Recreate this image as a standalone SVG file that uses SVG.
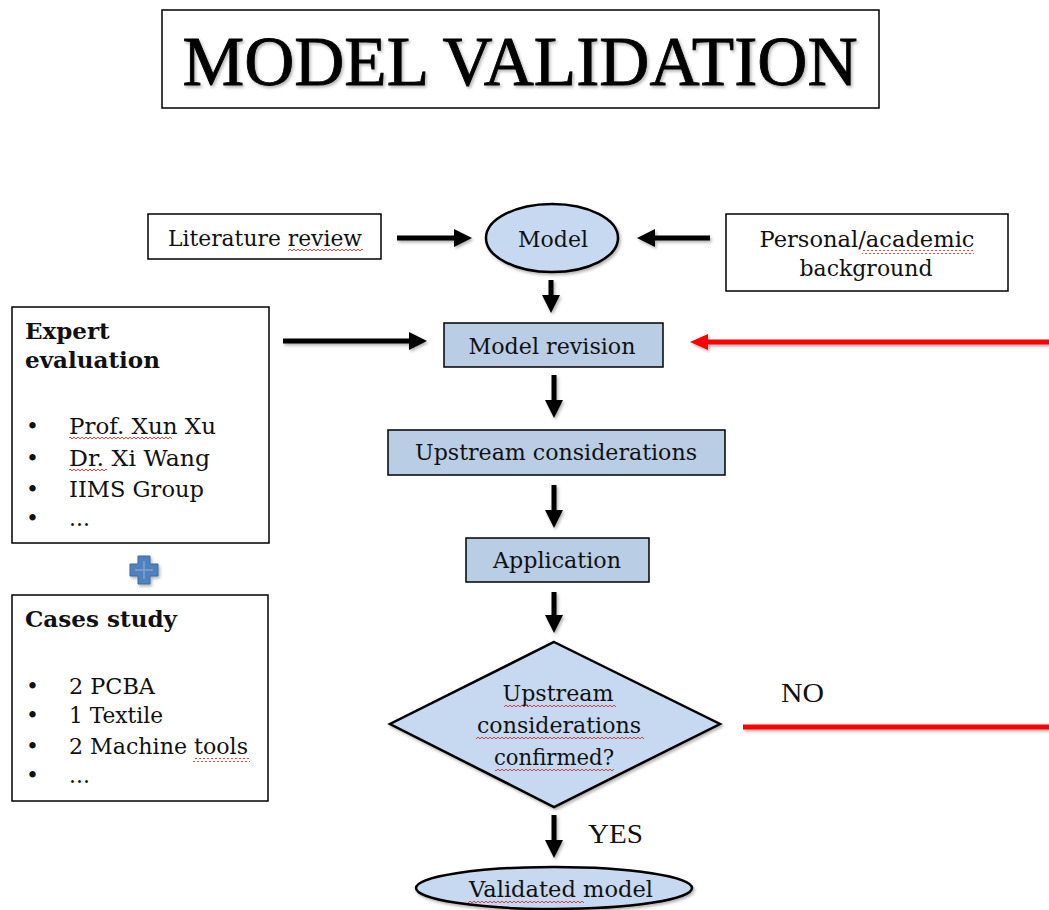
<svg xmlns="http://www.w3.org/2000/svg" width="1049" height="910" viewBox="0 0 1049 910">
<style>
.box{fill:#fff;stroke:#000;stroke-width:1.5}
.blue{fill:#b9cde5;stroke:#000;stroke-width:1.5}
.oval{fill:#c6d9f1;stroke:#000;stroke-width:2.5}
.t{font-family:"DejaVu Serif","Liberation Serif",serif;font-size:22px;fill:#111}
.b{font-family:"DejaVu Serif","Liberation Serif",serif;font-size:23px;font-weight:bold;fill:#111}
.c{text-anchor:middle}
.ar{stroke:#000;stroke-width:5;fill:none;marker-end:url(#ah)}
.rd{stroke:#f00;stroke-width:5;fill:none}
</style>
<defs>
<marker id="ah" markerUnits="userSpaceOnUse" markerWidth="20" markerHeight="20" refX="2" refY="9" orient="auto" viewBox="0 0 20 18">
<path d="M0,0 L18,9 L0,18 Z" fill="#000"/>
</marker>
<marker id="rh" markerUnits="userSpaceOnUse" markerWidth="20" markerHeight="20" refX="2" refY="8" orient="auto" viewBox="0 0 20 16">
<path d="M0,0 L18,8 L0,16 Z" fill="#f00"/>
</marker>
<pattern id="sq" patternUnits="userSpaceOnUse" width="4" height="4">
<path d="M0,3 L2,1 L4,3" fill="none" stroke="#e03030" stroke-width="0.9"/>
</pattern>
<filter id="sh" x="-10%" y="-10%" width="130%" height="140%">
<feDropShadow dx="1.5" dy="2" stdDeviation="1.5" flood-color="#000" flood-opacity="0.3"/>
</filter>
</defs>
<rect width="1049" height="910" fill="#fff"/>

<g id="title">
<rect x="162" y="10" width="717" height="98" class="box"/>
<text x="520" y="85" text-anchor="middle" font-family="Liberation Serif,serif" font-size="70" textLength="675" lengthAdjust="spacingAndGlyphs" fill="#000" stroke="#000" stroke-width="0.8" filter="url(#sh)">MODEL VALIDATION</text>
</g>

<g id="literature">
<rect x="148" y="214" width="233" height="45" class="box"/>
<text x="265" y="246" class="t c" textLength="194" lengthAdjust="spacingAndGlyphs">Literature review</text>
</g>

<g id="model">
<ellipse cx="552" cy="238" rx="66" ry="34" class="oval" filter="url(#sh)"/>
<text x="553" y="247" class="t c" textLength="70" lengthAdjust="spacingAndGlyphs">Model</text>
</g>

<g id="background">
<rect x="726" y="214" width="282" height="77" class="box"/>
<text x="867" y="247" class="t c" textLength="215" lengthAdjust="spacingAndGlyphs">Personal/academic</text>
<text x="866" y="276" class="t c" textLength="133" lengthAdjust="spacingAndGlyphs">background</text>
</g>

<g id="revision">
<rect x="444" y="323" width="219" height="44" class="blue"/>
<text x="552" y="354" class="t c" textLength="167" lengthAdjust="spacingAndGlyphs">Model revision</text>
</g>

<g id="upstream">
<rect x="388" y="430" width="337" height="45" class="blue"/>
<text x="556" y="460" class="t c" textLength="282" lengthAdjust="spacingAndGlyphs">Upstream considerations</text>
</g>

<g id="application">
<rect x="466" y="538" width="183" height="44" class="blue"/>
<text x="557" y="568" class="t c" textLength="128" lengthAdjust="spacingAndGlyphs">Application</text>
</g>

<g id="decision">
<polygon points="554,642 720,724 554,807 390,724" fill="#c6d9f1" stroke="#000" stroke-width="2.5" filter="url(#sh)"/>
<text x="558" y="701" class="t c" textLength="111" lengthAdjust="spacingAndGlyphs">Upstream</text>
<text x="559" y="733" class="t c" textLength="164" lengthAdjust="spacingAndGlyphs">considerations</text>
<text x="554" y="765" class="t c" textLength="120" lengthAdjust="spacingAndGlyphs">confirmed?</text>
</g>

<g id="validated">
<ellipse cx="554" cy="888" rx="138" ry="21" class="oval" filter="url(#sh)"/>
<text x="561" y="897" class="t c" textLength="184" lengthAdjust="spacingAndGlyphs">Validated model</text>
</g>

<g id="expert">
<rect x="12" y="307" width="257" height="236" class="box"/>
<text x="25" y="339" class="b">Expert</text>
<text x="25" y="368" class="b" textLength="135" lengthAdjust="spacingAndGlyphs">evaluation</text>
<g class="t">
<text x="26" y="434">•</text><text x="69" y="434" textLength="147" lengthAdjust="spacingAndGlyphs">Prof. Xun Xu</text>
<text x="26" y="466">•</text><text x="69" y="466" textLength="141" lengthAdjust="spacingAndGlyphs">Dr. Xi Wang</text>
<text x="26" y="497">•</text><text x="69" y="497" textLength="135" lengthAdjust="spacingAndGlyphs">IIMS Group</text>
<text x="26" y="526">•</text><text x="69" y="526">...</text>
</g>
</g>

<g id="plus">
<path d="M138,556 h12 v8 h8 v12 h-8 v8 h-12 v-8 h-8 v-12 h8 Z" fill="#4f81bd" stroke="#3a6aa3" stroke-width="1" filter="url(#sh)"/>
<path d="M144,561 v18 M135,570 h18" stroke="#7fa3d3" stroke-width="1.5"/>
</g>

<g id="cases">
<rect x="12" y="595" width="256" height="206" class="box"/>
<text x="25" y="627" class="b" textLength="152" lengthAdjust="spacingAndGlyphs">Cases study</text>
<g class="t">
<text x="26" y="694">•</text><text x="69" y="694" textLength="86" lengthAdjust="spacingAndGlyphs">2 PCBA</text>
<text x="26" y="723">•</text><text x="69" y="723" textLength="94" lengthAdjust="spacingAndGlyphs">1 Textile</text>
<text x="26" y="754">•</text><text x="69" y="754" textLength="179" lengthAdjust="spacingAndGlyphs">2 Machine tools</text>
<text x="26" y="783">•</text><text x="69" y="783">...</text>
</g>
</g>

<g id="labels">
<text x="781" y="702" font-family="Liberation Serif,serif" font-size="27" fill="#111" textLength="43" lengthAdjust="spacingAndGlyphs">NO</text>
<text x="588" y="843" font-family="Liberation Serif,serif" font-size="27" fill="#111" textLength="55" lengthAdjust="spacingAndGlyphs">YES</text>
</g>

<g id="squiggles">
<rect x="288" y="249" width="75" height="4" fill="url(#sq)"/>
<rect x="862" y="250" width="112" height="4" fill="url(#sq)"/>
<rect x="69" y="436" width="103" height="4" fill="url(#sq)"/>
<rect x="69" y="469" width="38" height="4" fill="url(#sq)"/>
<rect x="193" y="758" width="57" height="4" fill="url(#sq)"/>
<rect x="504" y="705" width="112" height="4" fill="url(#sq)"/>
<rect x="476" y="736" width="168" height="4" fill="url(#sq)"/>
<rect x="495" y="768" width="119" height="4" fill="url(#sq)"/>
<rect x="468" y="900" width="116" height="4" fill="url(#sq)"/>
</g>

<g id="connectors" filter="url(#sh)">
<path d="M397,238 H456" class="ar"/>
<path d="M710,238 H653" class="ar"/>
<path d="M551,280 V297" class="ar"/>
<path d="M283,341 H411" class="ar"/>
<path d="M554,375 V402" class="ar"/>
<path d="M554,485 V512" class="ar"/>
<path d="M554,592 V617" class="ar"/>
<path d="M554,815 V842" class="ar"/>
<path d="M1049,342 H706" class="rd" marker-end="url(#rh)"/>
<path d="M743,727 H1049" class="rd"/>
</g>
</svg>
